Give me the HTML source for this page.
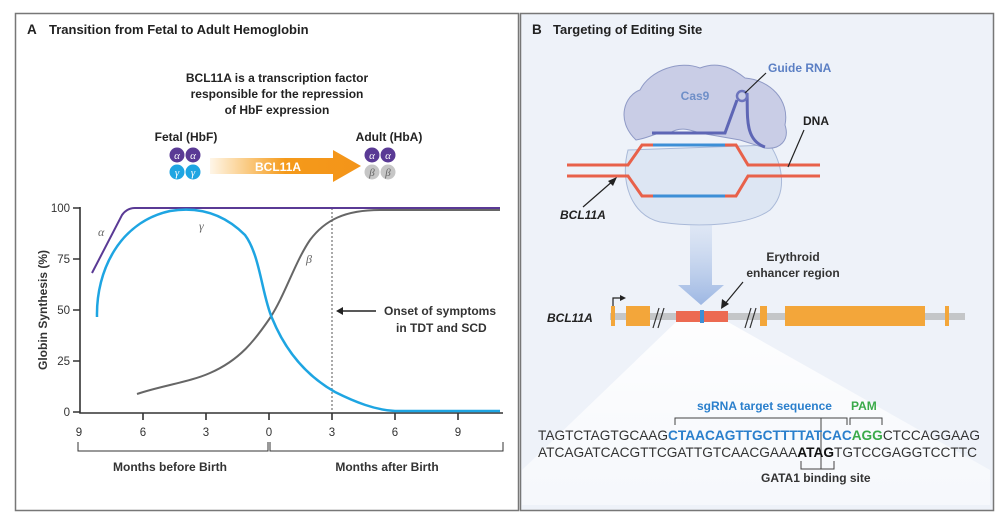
<!DOCTYPE html>
<html><head><meta charset="utf-8"><style>
html,body{margin:0;padding:0;background:#fff;}
svg{display:block;font-family:"Liberation Sans",sans-serif;}
</style></head><body>
<svg width="1000" height="522" viewBox="0 0 1000 522" xmlns="http://www.w3.org/2000/svg">
<defs>
<linearGradient id="og" x1="0" x2="1" y1="0" y2="0"><stop offset="0" stop-color="#f7a21b" stop-opacity="0.1"/><stop offset="0.5" stop-color="#f59a1a"/><stop offset="1" stop-color="#f39419"/></linearGradient>
<linearGradient id="bg" x1="0" x2="0" y1="0" y2="1"><stop offset="0" stop-color="#c7d6ee" stop-opacity="0.4"/><stop offset="1" stop-color="#9db7e3"/></linearGradient>
<linearGradient id="tri" x1="0" x2="0" y1="0" y2="1"><stop offset="0" stop-color="#fff"/><stop offset="1" stop-color="#fff" stop-opacity="0.5"/></linearGradient>
</defs>
<!-- Panel A -->
<rect x="15.5" y="13.5" width="503" height="497" fill="#fff" stroke="#777" stroke-width="1.5"/>
<text x="27" y="34" font-size="13.5" font-weight="bold" fill="#222">A</text>
<text x="49" y="34" font-size="13" font-weight="bold" fill="#222">Transition from Fetal to Adult Hemoglobin</text>
<g font-size="12" font-weight="bold" fill="#222" text-anchor="middle">
<text x="277" y="82">BCL11A is a transcription factor</text>
<text x="277" y="98">responsible for the repression</text>
<text x="277" y="114">of HbF expression</text>
<text x="186" y="141">Fetal (HbF)</text>
<text x="389" y="141">Adult (HbA)</text>
</g>
<polygon points="210,158 333,158 333,150 361,166 333,182 333,174 210,174" fill="url(#og)"/>
<text x="278" y="171" font-size="12" font-weight="bold" fill="#fff" text-anchor="middle">BCL11A</text>
<g font-family="Liberation Serif,serif" font-style="italic" font-size="11" text-anchor="middle" fill="#fff">
<circle cx="177" cy="155" r="7.5" fill="#5a3a95"/><circle cx="193" cy="155" r="7.5" fill="#5a3a95"/>
<circle cx="177" cy="172" r="7.5" fill="#1ea5e2"/><circle cx="193" cy="172" r="7.5" fill="#1ea5e2"/>
<text x="177" y="159">α</text><text x="193" y="159">α</text><text x="177" y="176">γ</text><text x="193" y="176">γ</text>
<circle cx="372" cy="155" r="7.5" fill="#5a3a95"/><circle cx="388" cy="155" r="7.5" fill="#5a3a95"/>
<circle cx="372" cy="172" r="7.5" fill="#c6c6c6"/><circle cx="388" cy="172" r="7.5" fill="#c6c6c6"/>
<text x="372" y="159">α</text><text x="388" y="159">α</text><text x="372" y="176" fill="#666">β</text><text x="388" y="176" fill="#666">β</text>
</g>
<!-- axes -->
<g stroke="#333" stroke-width="1.6" fill="none">
<path d="M80,207 V413 H503"/>
<path d="M73,208 H80 M73,259 H80 M73,310 H80 M73,361 H80 M73,412 H80"/>
<path d="M143,413 V420 M206,413 V420 M269,413 V420 M332,413 V420 M395,413 V420 M458,413 V420"/>
<path stroke-width="1" d="M78,442 V451 H268 V442 M270,442 V451 H503 V442"/>
</g>
<g font-size="11.5" fill="#333" text-anchor="end">
<text x="70" y="212">100</text><text x="70" y="263">75</text><text x="70" y="314">50</text><text x="70" y="365">25</text><text x="70" y="416">0</text>
</g>
<g font-size="11.5" fill="#333" text-anchor="middle">
<text x="79" y="436">9</text><text x="143" y="436">6</text><text x="206" y="436">3</text><text x="269" y="436">0</text><text x="332" y="436">3</text><text x="395" y="436">6</text><text x="458" y="436">9</text>
</g>
<text transform="translate(47,310) rotate(-90)" font-size="12" font-weight="bold" fill="#333" text-anchor="middle">Globin Synthesis (%)</text>
<g font-size="12" font-weight="bold" fill="#333" text-anchor="middle">
<text x="170" y="471">Months before Birth</text><text x="387" y="471">Months after Birth</text>
</g>
<line x1="332" y1="208" x2="332" y2="412" stroke="#555" stroke-width="1" stroke-dasharray="2,2"/>
<!-- curves -->
<path d="M92,273 L122,215 Q127,208 135,208 L500,208" fill="none" stroke="#5a3a95" stroke-width="2"/>
<path d="M137,394 C160,386 190,382 210,373 C240,360 255,340 270,318 C285,295 295,262 310,240 C325,220 345,210 380,210 L500,210" fill="none" stroke="#666" stroke-width="2"/>
<path d="M97,317 C96,270 120,222 170,211 C200,206 225,215 245,235 C260,255 262,295 272,318 C285,350 305,375 335,392 C355,402 375,410 395,411 L500,411" fill="none" stroke="#1ea5e2" stroke-width="2.5"/>
<g font-family="Liberation Serif,serif" font-style="italic" font-size="12" fill="#666">
<text x="98" y="236">α</text><text x="199" y="230">γ</text><text x="306" y="263">β</text>
</g>
<path d="M376,311 H340" stroke="#222" stroke-width="1.5"/><polygon points="336,311 343,307 343,315" fill="#222"/>
<g font-size="12" font-weight="bold" fill="#333"><text x="384" y="315">Onset of symptoms</text><text x="396" y="332">in TDT and SCD</text></g>
<!-- Panel B -->
<rect x="520.5" y="13.5" width="473" height="497" fill="#eef2f9" stroke="#777" stroke-width="1.5"/>
<text x="532" y="34" font-size="13.5" font-weight="bold" fill="#222">B</text>
<text x="553" y="34" font-size="13" font-weight="bold" fill="#222">Targeting of Editing Site</text>
<!-- white triangle -->
<polygon points="676,322 728,322 990,470 990,505 522,505 522,470" fill="url(#tri)" opacity="0.9"/>
<!-- Cas9 -->
<path d="M628,150 C620,180 630,215 660,222 C700,228 750,225 770,210 C790,190 780,160 770,145 Z" fill="#dde6f3" stroke="#a9b9d8" stroke-width="1"/>
<path d="M636,140 C615,120 625,95 640,90 C650,70 680,60 700,68 C720,60 735,70 745,78 C770,80 790,100 785,125 C790,140 780,150 765,148 L740,140 L700,133 C690,130 680,126 670,133 C660,130 650,138 636,140 Z" fill="#c9cde6" stroke="#8f9ac6" stroke-width="1"/>
<path d="M652,133 H725 L737,100 M747,93 C748,115 744,140 765,147" fill="none" stroke="#5e66b5" stroke-width="3"/>
<circle cx="742" cy="96" r="5" fill="#c9cde6" stroke="#6c74bd" stroke-width="2.5"/>
<text x="651" y="148" font-size="0"> </text>
<text x="695" y="100" font-size="12" font-weight="bold" fill="#6f8fc8" text-anchor="middle">Cas9</text>
<!-- DNA -->
<g fill="none" stroke-width="3">
<path d="M567,165 H628 L642,145 H653" stroke="#e8614a"/>
<path d="M725,145 H736 L748,165 H820" stroke="#e8614a"/>
<path d="M567,176 H628 L642,196 H653" stroke="#e8614a"/>
<path d="M725,196 H736 L748,176 H820" stroke="#e8614a"/>
<path d="M653,145 H725 M653,196 H725" stroke="#3d8fd6"/>
</g>
<text x="768" y="72" font-size="12" font-weight="bold" fill="#5b7fc4">Guide RNA</text>
<path d="M766,73 L745,93" stroke="#222" stroke-width="1.2"/>
<text x="803" y="125" font-size="12" font-weight="bold" fill="#222">DNA</text>
<path d="M804,130 L788,167" stroke="#222" stroke-width="1.2"/>
<text x="560" y="219" font-size="12" font-weight="bold" font-style="italic" fill="#222">BCL11A</text>
<path d="M583,207 L614,180" stroke="#222" stroke-width="1.2"/><polygon points="617,177 608,181 613,186" fill="#222"/>
<!-- big arrow -->
<polygon points="690,225 712,225 712,285 724,285 701,305 678,285 690,285" fill="url(#bg)"/>
<g font-size="12" font-weight="bold" fill="#333" text-anchor="middle"><text x="793" y="261">Erythroid</text><text x="793" y="277">enhancer region</text></g>
<path d="M743,282 L724,305" stroke="#222" stroke-width="1.2"/><polygon points="721,309 722,299 729,304" fill="#222"/>
<!-- gene -->
<rect x="610" y="313" width="355" height="7" fill="#c4c6c8"/>
<g fill="#f3a63a">
<rect x="611" y="306" width="4" height="20"/><rect x="626" y="306" width="24" height="20"/>
<rect x="760" y="306" width="7" height="20"/><rect x="785" y="306" width="140" height="20"/><rect x="945" y="306" width="4" height="20"/>
</g>
<rect x="676" y="311" width="24" height="11" fill="#ec6a52"/><rect x="704" y="311" width="24" height="11" fill="#ec6a52"/>
<rect x="700" y="310" width="4" height="13" fill="#3d8fd6"/>
<g stroke="#333" stroke-width="1.2"><path d="M653,328 L659,308 M658,328 L664,308 M745,328 L751,308 M750,328 L756,308"/></g>
<path d="M613,306 V298 H622" fill="none" stroke="#222" stroke-width="1.2"/><polygon points="626,298 620,295 620,301" fill="#222"/>
<text x="547" y="322" font-size="12" font-weight="bold" font-style="italic" fill="#222">BCL11A</text>
<!-- sequence -->
<text x="697" y="410" font-size="12" font-weight="bold" fill="#2a7fcc">sgRNA target sequence</text>
<text x="851" y="410" font-size="12" font-weight="bold" fill="#3aaa4a">PAM</text>
<g fill="none" stroke="#444" stroke-width="1"><path d="M675,425 V418 H847 V425 M850,425 V418 H882 V425 M821,418 V469"/><path d="M801,461 V469 H834 V461" /></g>
<text x="538" y="440" font-size="14" fill="#333" textLength="442" lengthAdjust="spacingAndGlyphs">TAGTCTAGTGCAAG<tspan fill="#2a7fcc" font-weight="bold">CTAACAGTTGCTTTTATCAC</tspan><tspan fill="#3aaa4a" font-weight="bold">AGG</tspan>CTCCAGGAAG</text>
<text x="538" y="457" font-size="14" fill="#333" textLength="439" lengthAdjust="spacingAndGlyphs">ATCAGATCACGTTCGATTGTCAACGAAA<tspan font-weight="bold" fill="#111">ATAG</tspan>TGTCCGAGGTCCTTC</text>
<text x="761" y="482" font-size="12" font-weight="bold" fill="#333">GATA1 binding site</text>
</svg>
</body></html>
